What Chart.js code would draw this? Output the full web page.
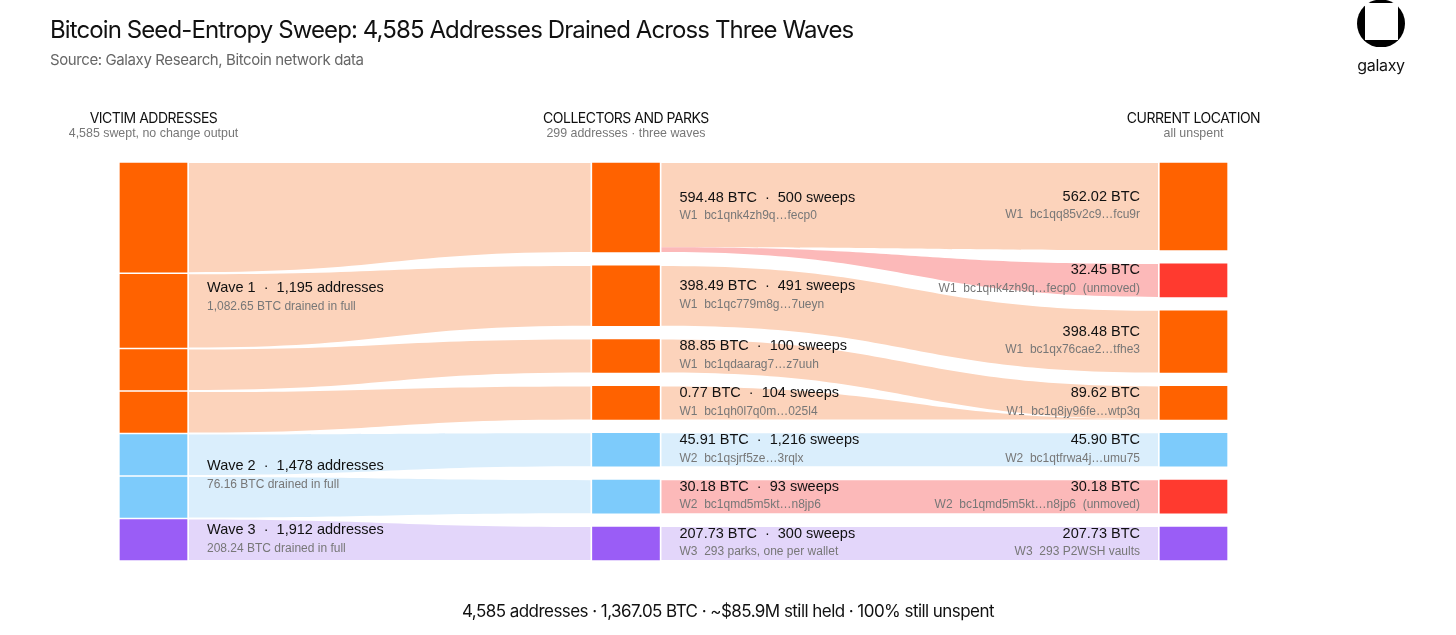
<!DOCTYPE html>
<html>
<head>
<meta charset="utf-8">
<script src="https://cdn.jsdelivr.net/npm/chart.js@4.4.1/dist/chart.umd.min.js"></script>
<style>
  html, body { margin: 0; padding: 0; background: #fff; }
  #page { position: relative; width: 1456px; height: 635px; overflow: hidden; }
  #box  { position: absolute; left: 0; top: 0; width: 1456px; height: 635px; }
  .title { position: absolute; left: 50px; top: 16px; font: 400 24px Inter, sans-serif;
           letter-spacing: -0.9px; color: #111; white-space: nowrap; line-height: 28px; }
  .sub   { position: absolute; left: 50px; top: 50px; font: 400 15px Inter, sans-serif;
           letter-spacing: -0.4px; color: #666; white-space: nowrap; line-height: 20px; }
  .foot  { position: absolute; left: 0; width: 1456px; top: 600px; text-align: center;
           font: 400 17px Inter, sans-serif; letter-spacing: -0.55px; color: #111; line-height: 22px; }
  .logo  { position: absolute; left: 1357px; top: 0; }
  .logotxt { position: absolute; left: 1341px; width: 80px; top: 55px; text-align: center;
           font: 400 16px Inter, sans-serif; letter-spacing: -0.3px; color: #111; line-height: 20px; }
</style>
</head>
<body>
<div id="page">
  <div id="box"><canvas id="sankey"></canvas></div>
  <div class="title">Bitcoin Seed-Entropy Sweep: 4,585 Addresses Drained Across Three Waves</div>
  <div class="sub">Source: Galaxy Research, Bitcoin network data</div>
  <svg class="logo" width="48" height="48" viewBox="0 0 48 48">
    <defs><clipPath id="disc"><circle cx="24" cy="23.5" r="24"/></clipPath></defs>
    <rect x="0" y="0" width="48" height="47" fill="#000" clip-path="url(#disc)"/>
    <rect x="8" y="3" width="33" height="37" fill="#fff"/>
  </svg>
  <div class="logotxt">galaxy</div>
  <div class="foot">4,585 addresses · 1,367.05 BTC · ~$85.9M still held · 100% still unspent</div>
</div>

<script>
/* ── data ── */
const waveNames      = ['Wave 1', 'Wave 2', 'Wave 3'];
const waveAddresses  = ['1,195', '1,478', '1,912'];
const waveDrained    = [1082.65, 76.16, 208.24];

const collectorWave   = [0, 0, 0, 0, 1, 1, 2];
const collectorBtc    = [594.48, 398.49, 88.85, 0.77, 45.91, 30.18, 207.73];
const collectorSweeps = ['500', '491', '100', '104', '1,216', '93', '300'];
const collectorAddr   = ['bc1qnk4zh9q…fecp0', 'bc1qc779m8g…7ueyn', 'bc1qdaarag7…z7uuh',
                         'bc1qh0l7q0m…025l4', 'bc1qsjrf5ze…3rqlx', 'bc1qmd5m5kt…n8jp6',
                         '293 parks, one per wallet'];

const locationWave    = [0, 0, 0, 0, 1, 1, 2];
const locationBtc     = [562.02, 32.45, 398.48, 89.62, 45.90, 30.18, 207.73];
const locationUnmoved = [false, true, false, false, false, true, false];
const locationAddr    = ['bc1qq85v2c9…fcu9r', 'bc1qnk4zh9q…fecp0', 'bc1qx76cae2…tfhe3',
                         'bc1q8jy96fe…wtp3q', 'bc1qtfrwa4j…umu75', 'bc1qmd5m5kt…n8jp6',
                         '293 P2WSH vaults'];

// collector -> current location
const flowFrom = [0, 0, 1, 2, 3, 4, 5, 6];
const flowTo   = [0, 1, 2, 3, 3, 4, 5, 6];
const flowBtc  = [562.02, 32.45, 398.48, 88.85, 0.77, 45.90, 30.18, 207.73];

const columnTitles = ['VICTIM ADDRESSES', 'COLLECTORS AND PARKS', 'CURRENT LOCATION'];
const columnNotes  = ['4,585 swept, no change output', '299 addresses · three waves', 'all unspent'];

/* ── layout / style ── */
const COL_X       = [0, 0.4543, 1];
const NODE_W      = 67;
const MIN_NODE    = 220;   // floor so tiny nodes stay readable (BTC units)
const NODE_GAP    = 93;
const SLICE_GAP   = 14;
const NODE_COLORS = ['#FF6200', '#7DCBFB', '#9A5DF6'];
const FLOW_COLORS = ['#FCD3BB', '#DAEEFC', '#E3D6FA'];
const UNMOVED_NODE = '#FF3A2F';
const UNMOVED_FLOW = '#FCB9B9';
const SANS = '"Liberation Sans", Arial, sans-serif';

const sum = a => a.reduce((s, v) => s + v, 0);
const fmt = v => v.toLocaleString('en-US', { minimumFractionDigits: 2, maximumFractionDigits: 2 });

const midW  = collectorBtc.map(v => Math.max(v, MIN_NODE));
const Y_MAX = sum(midW) + NODE_GAP * (midW.length - 1);

function fitColumn(vals, gap) {
  const avail = Y_MAX - gap * (vals.length - 1);
  let s = 1;
  for (let k = 0; k < 20; k++) {
    const floored = vals.filter(v => v * s < MIN_NODE).length * MIN_NODE;
    const free    = sum(vals.filter(v => v * s >= MIN_NODE));
    s = (avail - floored) / free;
  }
  let y = 0;
  return vals.map(v => {
    const h = Math.max(v * s, MIN_NODE);
    const span = [y, y + h];
    y += h + gap;
    return span;
  });
}

const leftSpans  = fitColumn(midW, SLICE_GAP);
const midSpans   = fitColumn(midW, NODE_GAP);
const rightSpans = fitColumn(locationBtc, NODE_GAP);

const nodePoints = [], nodeColors = [];
leftSpans.forEach((s, i)  => { nodePoints.push({ x: COL_X[0], y: s }); nodeColors.push(NODE_COLORS[collectorWave[i]]); });
midSpans.forEach((s, i)   => { nodePoints.push({ x: COL_X[1], y: s }); nodeColors.push(NODE_COLORS[collectorWave[i]]); });
rightSpans.forEach((s, i) => { nodePoints.push({ x: COL_X[2], y: s });
  nodeColors.push(locationUnmoved[i] ? UNMOVED_NODE : NODE_COLORS[locationWave[i]]); });

/* ── drawing helpers ── */
function nodeRect(chart, idx) {
  const el = chart.getDatasetMeta(0).data[idx];
  return { l: el.x - el.width / 2, r: el.x + el.width / 2,
           t: Math.min(el.y, el.base), b: Math.max(el.y, el.base), cx: el.x };
}

function ribbon(ctx, x0, t0, b0, x1, t1, b1, color) {
  const xm = (x0 + x1) / 2;
  ctx.beginPath();
  ctx.moveTo(x0, t0);
  ctx.bezierCurveTo(xm, t0, xm, t1, x1, t1);
  ctx.lineTo(x1, b1);
  ctx.bezierCurveTo(xm, b1, xm, b0, x0, b0);
  ctx.closePath();
  ctx.fillStyle = color;
  ctx.fill();
}

function twoLines(ctx, x, yc, align, main, note) {
  ctx.textAlign = align;
  ctx.textBaseline = 'middle';
  ctx.font = '14.5px ' + SANS;
  ctx.fillStyle = '#111';
  ctx.fillText(main, x, yc - 10);
  ctx.font = '12px ' + SANS;
  ctx.fillStyle = '#777';
  ctx.fillText(note, x, yc + 8.5);
}

const sankeyPlugin = {
  id: 'sankeyFlows',
  beforeDatasetsDraw(chart) {
    const ctx = chart.ctx;
    const n = collectorBtc.length;
    ctx.save();
    // victims -> collectors
    for (let i = 0; i < n; i++) {
      const a = nodeRect(chart, i), b = nodeRect(chart, n + i);
      ribbon(ctx, a.r + 2, a.t, a.b, b.l - 2, b.t, b.b, FLOW_COLORS[collectorWave[i]]);
    }
    // collectors -> current location
    const outTot = collectorBtc.map((_, i) => sum(flowBtc.filter((v, k) => flowFrom[k] === i)));
    const inTot  = locationBtc.map((_, i) => sum(flowBtc.filter((v, k) => flowTo[k] === i)));
    const outUsed = collectorBtc.map(() => 0), inUsed = locationBtc.map(() => 0);
    flowBtc.forEach((v, k) => {
      const s = nodeRect(chart, n + flowFrom[k]), t = nodeRect(chart, 2 * n + flowTo[k]);
      const sh = (s.b - s.t) * v / outTot[flowFrom[k]];
      const th = (t.b - t.t) * v / inTot[flowTo[k]];
      const s0 = s.t + outUsed[flowFrom[k]], t0 = t.t + inUsed[flowTo[k]];
      outUsed[flowFrom[k]] += sh;
      inUsed[flowTo[k]] += th;
      const col = locationUnmoved[flowTo[k]] ? UNMOVED_FLOW : FLOW_COLORS[locationWave[flowTo[k]]];
      ribbon(ctx, s.r + 2, s0, s0 + sh, t.l - 2, t0, t0 + th, col);
    });
    ctx.restore();
  },
  afterDatasetsDraw(chart) {
    const ctx = chart.ctx;
    const n = collectorBtc.length;
    ctx.save();
    // column headers
    [0, n, 2 * n].forEach((idx, c) => {
      const r = nodeRect(chart, idx);
      ctx.textAlign = 'center';
      ctx.textBaseline = 'middle';
      ctx.font = '14px Inter, sans-serif';
      ctx.letterSpacing = '-0.5px';
      ctx.fillStyle = '#111';
      ctx.fillText(columnTitles[c], r.cx, r.t - 44);
      ctx.letterSpacing = '0px';
      ctx.font = '12.4px ' + SANS;
      ctx.fillStyle = '#777';
      ctx.fillText(columnNotes[c], r.cx, r.t - 29);
    });
    // wave labels
    waveNames.forEach((w, wi) => {
      const idx = collectorWave.map((v, i) => v === wi ? i : -1).filter(i => i >= 0);
      const top = nodeRect(chart, idx[0]), bot = nodeRect(chart, idx[idx.length - 1]);
      twoLines(ctx, top.r + 20, (top.t + bot.b) / 2, 'left',
        `${w}  ·  ${waveAddresses[wi]} addresses`, `${fmt(waveDrained[wi])} BTC drained in full`);
    });
    // collector labels
    collectorBtc.forEach((v, i) => {
      const r = nodeRect(chart, n + i);
      twoLines(ctx, r.r + 20, (r.t + r.b) / 2, 'left',
        `${fmt(v)} BTC  ·  ${collectorSweeps[i]} sweeps`, `W${collectorWave[i] + 1}  ${collectorAddr[i]}`);
    });
    // location labels
    locationBtc.forEach((v, i) => {
      const r = nodeRect(chart, 2 * n + i);
      twoLines(ctx, r.l - 20, (r.t + r.b) / 2, 'right', `${fmt(v)} BTC`,
        `W${locationWave[i] + 1}  ${locationAddr[i]}` + (locationUnmoved[i] ? '  (unmoved)' : ''));
    });
    ctx.restore();
  },
};

new Chart(document.getElementById('sankey'), {
  type: 'bar',
  data: {
    datasets: [{
      data: nodePoints,
      backgroundColor: nodeColors,
      barThickness: NODE_W,
      borderWidth: 0,
      borderSkipped: false,
      clip: false,
    }],
  },
  options: {
    responsive: true,
    maintainAspectRatio: false,
    animation: false,
    layout: { padding: { left: 153.5, right: 262.5, top: 163, bottom: 75 } },
    plugins: { legend: { display: false }, tooltip: { enabled: false } },
    scales: {
      x: { type: 'linear', min: 0, max: 1, offset: false, display: false },
      y: { type: 'linear', min: 0, max: Y_MAX, reverse: true, display: false },
    },
  },
  plugins: [sankeyPlugin],
});
</script>
</body>
</html>
